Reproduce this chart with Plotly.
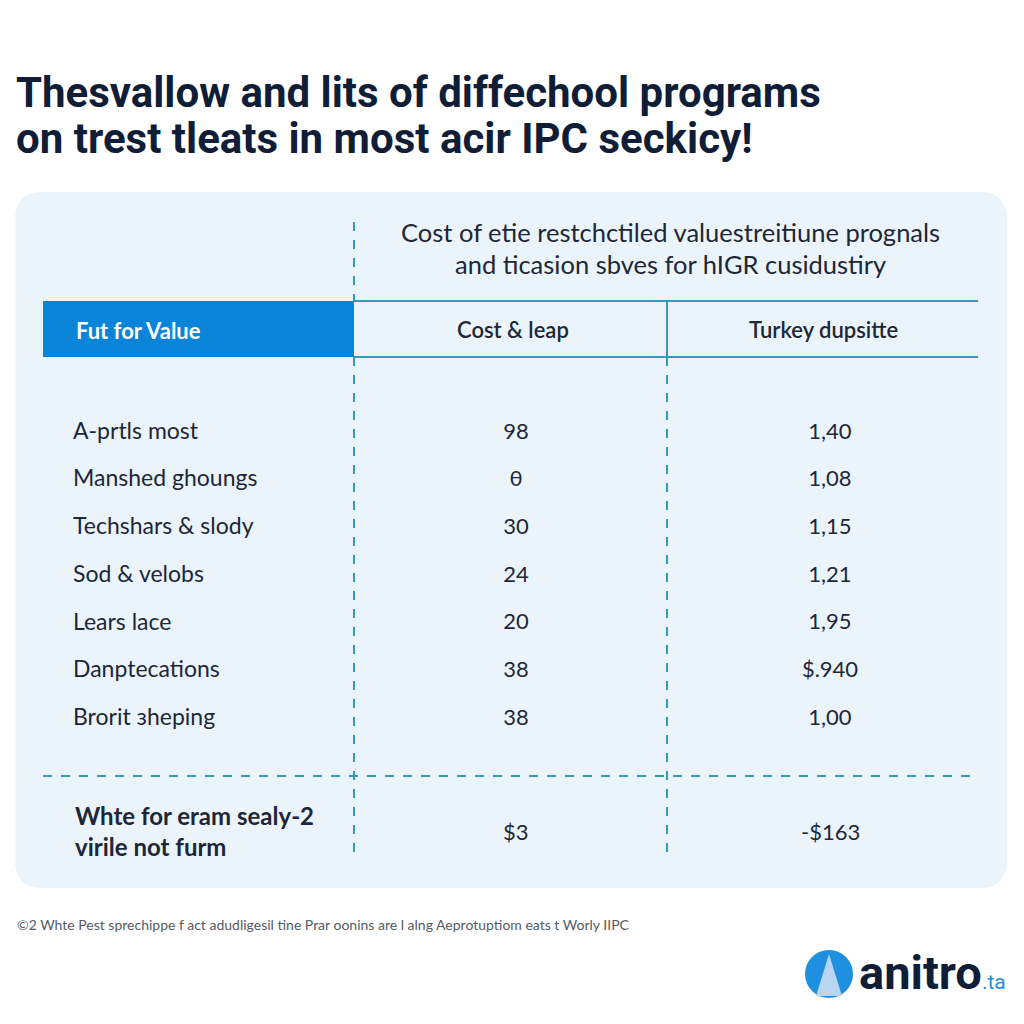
import plotly.graph_objects as go

# ---------------- data ----------------
title_lines = ["Thesvallow and lits of diffechool programs",
               "on trest tleats in most acir IPC seckicy!"]
panel_heading = ["Cost of etie restchctiled valuestreitiune prognals",
                 "and ticasion sbves for hIGR cusidustiry"]
col_headers = ["Fut for Value", "Cost & leap", "Turkey dupsitte"]
row_labels = ["A-prtls most", "Manshed ghoungs", "Techshars & slody", "Sod & velobs",
              "Lears lace", "Danptecations", "Brorit \u0437heping"]
cost_values = ["98", "\u03b8", "30", "24", "20", "38", "38"]
turkey_values = ["1,40", "1,08", "1,15", "1,21", "1,95", "$.940", "1,00"]
total_label = ["Whte for eram sealy-2", "virile not furm"]
total_cost = "$3"
total_turkey = "-$163"
footnote = "\u00a92 Whte Pest sprechippe f act adudligesil tine Prar oonins are l alng Aeprotuptiom eats t Worly IIPC"
logo_text = "anitro"
logo_suffix = ".ta"

# ---------------- style ----------------
NAVY = "#0f1d36"
TEXT = "#1d2737"
BLUE = "#0a84d9"
TEAL = "#2f9db8"
PANEL = "#ebf4fb"
BODY_FONT = "Lato, Roboto, sans-serif"
TITLE_FONT = "Roboto, sans-serif"

OFF = 8  # page body margin
W = H = 1024 - OFF
fig = go.Figure()

# geometry (screen pixel coordinates)
px_left, px_right, py_top, py_bot, rad = 15, 1007, 192, 888, 28
col1_x, col2_x = 354, 667
tbl_l, tbl_r = 43, 978
hdr_top, hdr_bot = 301, 357
row_y0, row_step = 433, 47.7
sep_y = 776
x_label, x_cost, x_turkey = 73, 516, 830

shapes = []
path = (f"M{px_left+rad},{py_top} L{px_right-rad},{py_top} Q{px_right},{py_top} {px_right},{py_top+rad} "
        f"L{px_right},{py_bot-rad} Q{px_right},{py_bot} {px_right-rad},{py_bot} "
        f"L{px_left+rad},{py_bot} Q{px_left},{py_bot} {px_left},{py_bot-rad} "
        f"L{px_left},{py_top+rad} Q{px_left},{py_top} {px_left+rad},{py_top} Z")
shapes.append(dict(type="path", path=path, fillcolor=PANEL, line=dict(width=0), layer="below"))
shapes.append(dict(type="rect", x0=tbl_l, x1=col1_x, y0=hdr_top, y1=hdr_bot,
                   fillcolor=BLUE, line=dict(width=0), layer="below"))
for yy in (hdr_top, hdr_bot):
    shapes.append(dict(type="line", x0=col1_x, x1=tbl_r, y0=yy, y1=yy, line=dict(color=TEAL, width=2)))
shapes.append(dict(type="line", x0=col1_x, x1=col1_x, y0=222, y1=hdr_top, line=dict(color=TEAL, width=2, dash="dash")))
shapes.append(dict(type="line", x0=col1_x, x1=col1_x, y0=hdr_bot, y1=860, line=dict(color=TEAL, width=2, dash="dash")))
shapes.append(dict(type="line", x0=col2_x, x1=col2_x, y0=hdr_top, y1=hdr_bot, line=dict(color=TEAL, width=2)))
shapes.append(dict(type="line", x0=col2_x, x1=col2_x, y0=hdr_bot, y1=860, line=dict(color=TEAL, width=2, dash="dash")))
shapes.append(dict(type="line", x0=tbl_l, x1=tbl_r, y0=sep_y, y1=sep_y, line=dict(color=TEAL, width=2, dash="dash")))
# logo mark
cx, cy, r = 829, 974, 24
shapes.append(dict(type="circle", x0=cx-r, x1=cx+r, y0=cy-r, y1=cy+r, fillcolor="#1f8fe0", line=dict(width=0)))
shapes.append(dict(type="path", path=f"M{cx},{cy-20} L{cx-13},{cy+r-2} L{cx+13},{cy+r-2} Z",
                   fillcolor="#b9d5ef", line=dict(width=0)))

ys = [row_y0 + i * row_step for i in range(len(row_labels))]
fig.add_trace(go.Scatter(x=[x_label]*len(row_labels), y=ys, text=row_labels, mode="text",
                         textposition="middle right",
                         textfont=dict(family=BODY_FONT, size=23, color=TEXT), hoverinfo="skip"))
fig.add_trace(go.Scatter(x=[x_cost]*len(cost_values), y=ys, text=cost_values, mode="text",
                         textposition="middle center",
                         textfont=dict(family=BODY_FONT, size=22, color=TEXT), hoverinfo="skip"))
fig.add_trace(go.Scatter(x=[x_turkey]*len(turkey_values), y=ys, text=turkey_values, mode="text",
                         textposition="middle center",
                         textfont=dict(family=BODY_FONT, size=22, color=TEXT), hoverinfo="skip"))

ann = []
for i, t in enumerate(title_lines):
    ann.append(dict(x=14, y=92 + i * 46, text=t, xanchor="left", yanchor="middle", showarrow=False,
                    font=dict(family=TITLE_FONT, size=42, color=NAVY, weight="bold")))
for i, t in enumerate(panel_heading):
    ann.append(dict(x=670, y=232 + i * 32, text=t, xanchor="center", yanchor="middle", showarrow=False,
                    font=dict(family=BODY_FONT, size=25.5, color=TEXT)))
ann.append(dict(x=74, y=330, text=col_headers[0], xanchor="left", yanchor="middle", showarrow=False,
                font=dict(family=BODY_FONT, size=22, color="white", weight="bold")))
ann.append(dict(x=x_cost-3, y=329, text=col_headers[1], xanchor="center", yanchor="middle", showarrow=False,
                font=dict(family=BODY_FONT, size=22, color=TEXT, weight=600)))
ann.append(dict(x=x_turkey-7, y=329, text=col_headers[2], xanchor="center", yanchor="middle", showarrow=False,
                font=dict(family=BODY_FONT, size=22, color=TEXT, weight=600)))
for i, t in enumerate(total_label):
    ann.append(dict(x=x_label, y=815 + i * 31, text=t, xanchor="left", yanchor="middle", showarrow=False,
                    font=dict(family=BODY_FONT, size=24, color=TEXT, weight="bold")))
ann.append(dict(x=x_cost, y=831, text=total_cost, xanchor="center", yanchor="middle", showarrow=False,
                font=dict(family=BODY_FONT, size=22, color=TEXT)))
ann.append(dict(x=x_turkey, y=831, text=total_turkey, xanchor="center", yanchor="middle", showarrow=False,
                font=dict(family=BODY_FONT, size=22, color=TEXT)))
ann.append(dict(x=15, y=924, text=footnote, xanchor="left", yanchor="middle", showarrow=False,
                font=dict(family=BODY_FONT, size=14, color="#555a63")))
ann.append(dict(x=857, y=972, text=f"<b>{logo_text}</b><span style='font-size:21px;color:#1f8fe0'>{logo_suffix}</span>",
                xanchor="left", yanchor="middle", showarrow=False,
                font=dict(family=TITLE_FONT, size=47, color=NAVY)))

fig.update_layout(
    width=W, height=H, margin=dict(l=0, r=0, t=0, b=0),
    paper_bgcolor="white", plot_bgcolor="white", showlegend=False,
    xaxis=dict(range=[OFF, 1024], visible=False, fixedrange=True),
    yaxis=dict(range=[1024, OFF], visible=False, fixedrange=True),
    shapes=shapes, annotations=ann,
)
fig.write_html("out.html")
